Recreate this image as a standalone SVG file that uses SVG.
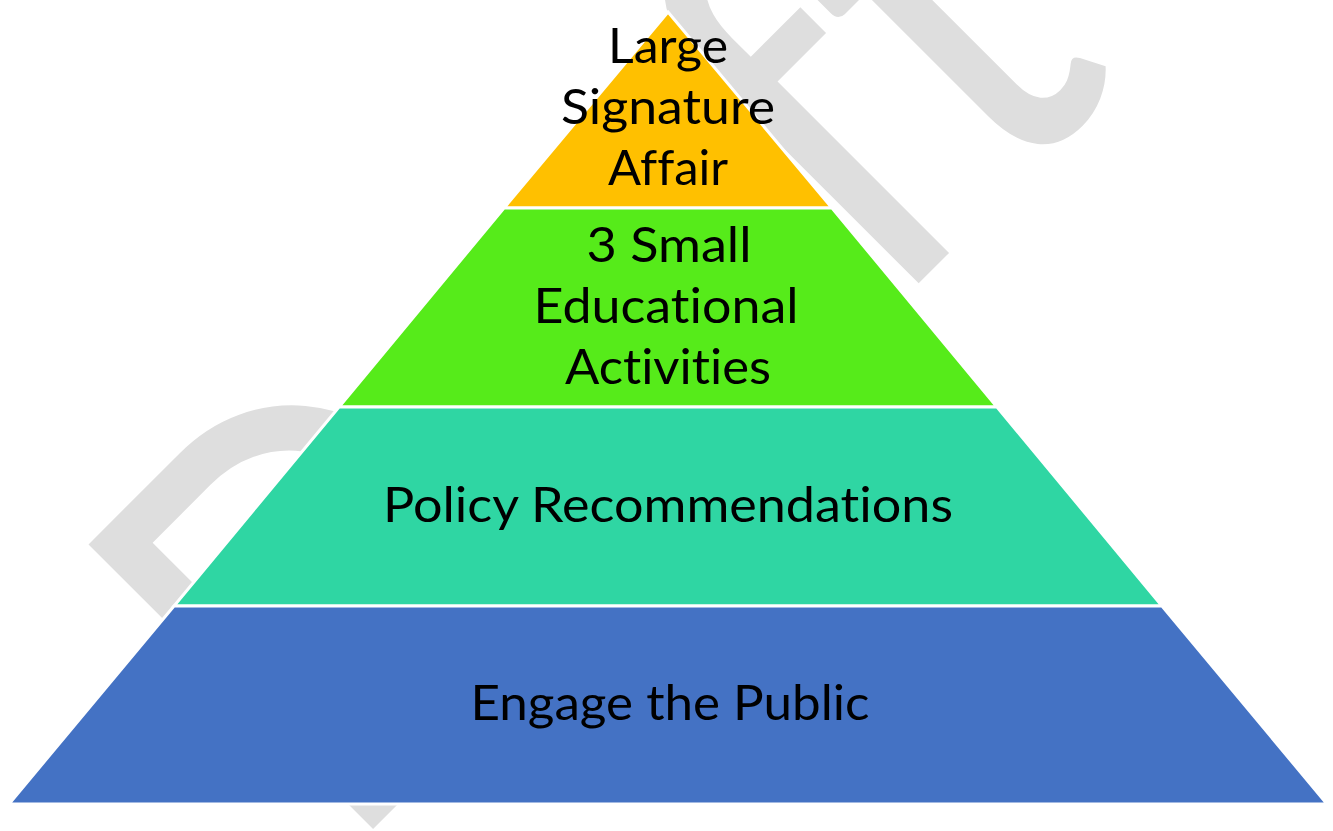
<svg xmlns="http://www.w3.org/2000/svg" width="1333" height="831" viewBox="0 0 1333 831">
  <style>
    .tier { stroke: #ffffff; stroke-width: 3; stroke-linejoin: miter; }
    .label { font-family: Lato, "Open Sans", "Liberation Sans", sans-serif; font-size: 49px; fill: #000000; text-anchor: middle; font-variant-ligatures: none; font-feature-settings: "liga" 0, "clig" 0; }
    .mark { font-family: Lato, "Open Sans", "Liberation Sans", sans-serif; font-size: 480px; fill: #dedede; font-variant-ligatures: none; font-feature-settings: "liga" 0, "clig" 0; }
  </style>
  <rect width="1333" height="831" fill="#ffffff"/>

  <!-- background watermark -->
  <g id="watermark">
    <text class="mark" transform="translate(342,860) rotate(-45) scale(1,1.17)">Draft</text>
  </g>

  <!-- pyramid tiers, top to bottom -->
  <g id="tier-signature">
    <polygon class="tier" fill="#ffc000" points="668,12 832,208 504,208"/>
    <text class="label" x="668" y="63" textLength="120" lengthAdjust="spacingAndGlyphs">Large</text>
    <text class="label" x="668" y="124" textLength="214" lengthAdjust="spacingAndGlyphs">Signature</text>
    <text class="label" x="668" y="185" textLength="120" lengthAdjust="spacingAndGlyphs">Affair</text>
  </g>
  <g id="tier-educational">
    <polygon class="tier" fill="#56eb1a" points="504,208 832,208 997,407 339,407"/>
    <text class="label" x="669" y="262" textLength="165" lengthAdjust="spacingAndGlyphs">3 Small</text>
    <text class="label" x="666" y="323" textLength="265" lengthAdjust="spacingAndGlyphs">Educational</text>
    <text class="label" x="668" y="384" textLength="206" lengthAdjust="spacingAndGlyphs">Activities</text>
  </g>
  <g id="tier-policy">
    <polygon class="tier" fill="#2fd6a3" points="339,407 997,407 1162,606 174,606"/>
    <text class="label" x="668" y="522" textLength="570" lengthAdjust="spacingAndGlyphs">Policy Recommendations</text>
  </g>
  <g id="tier-public">
    <polygon class="tier" fill="#4472c4" points="174,606 1162,606 1327,804 9,804"/>
    <text class="label" x="670" y="720" textLength="399" lengthAdjust="spacingAndGlyphs">Engage the Public</text>
  </g>

  <g id="connectors"/>
</svg>
